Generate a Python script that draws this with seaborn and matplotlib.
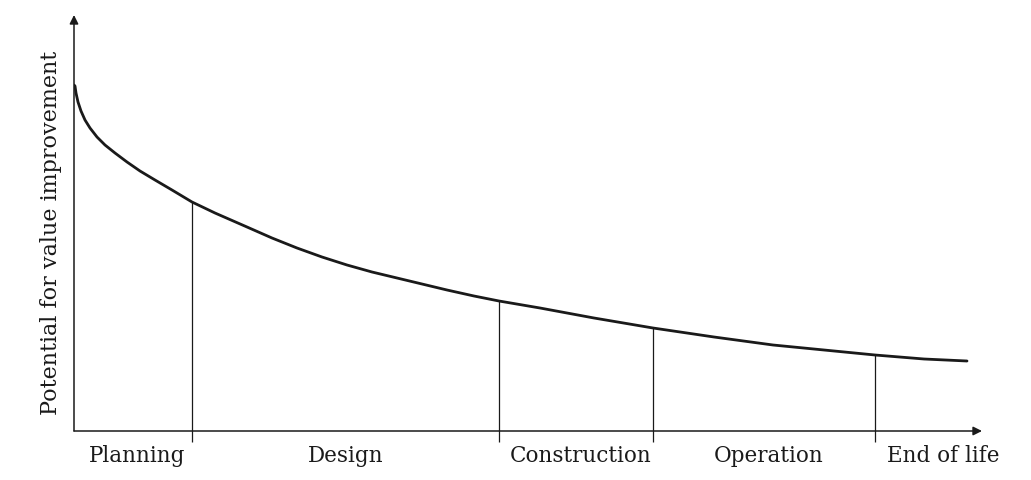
import matplotlib
matplotlib.use("Agg")
import matplotlib.pyplot as plt
import pandas as pd
import seaborn as sns

# Curve (time along the life cycle, potential)
time = [0, 1, 2, 4, 7, 11, 16, 23, 31, 41, 53, 66, 81, 98, 118, 141, 173, 198, 223,
        248, 273, 298, 323, 348, 373, 400, 425, 466, 520, 579, 640, 699, 750, 801,
        850, 893]
potential = [346, 345, 338, 329, 320, 311, 303, 294, 286, 278, 269, 260, 251, 241,
             229, 218, 204, 193, 183, 174, 166, 159, 153, 147, 141, 135, 130, 123,
             113, 103, 94, 86, 81, 76, 72, 70]

# Phase boundaries and labels
boundaries = [118, 425, 579, 801]
boundary_heights = [229, 130, 103, 76]
phases = ["Planning", "Design", "Construction", "Operation", "End of life"]
phase_centers = [63, 272, 507, 695, 869]

df = pd.DataFrame({"time": time, "potential": potential})

sns.set_style("white")
plt.rcParams["font.family"] = ["DejaVu Serif"]

fig = plt.figure(figsize=(10.31, 4.8), dpi=100)
ax = fig.add_axes([74 / 1031, 49 / 480, 908 / 1031, 416 / 480])
ax.set_xlim(0, 908)
ax.set_ylim(0, 416)

ink = "#1a1a1a"

# Curve
sns.lineplot(data=df, x="time", y="potential", ax=ax, color=ink, lw=2.0)

# Phase boundaries, reaching a bit below the time axis
ax.vlines(boundaries, -11, boundary_heights, color=ink, lw=0.9, clip_on=False)

# Axes drawn as arrows
for s in ax.spines.values():
    s.set_visible(False)
ax.annotate("", xy=(908, 0), xytext=(0, 0),
            arrowprops=dict(arrowstyle="-|>", color=ink, lw=1.1, mutation_scale=13,
                            shrinkA=0, shrinkB=0), annotation_clip=False)
ax.annotate("", xy=(0, 416), xytext=(0, 0),
            arrowprops=dict(arrowstyle="-|>", color=ink, lw=1.1, mutation_scale=13,
                            shrinkA=0, shrinkB=0), annotation_clip=False)

ax.set_xticks([])
ax.set_yticks([])
ax.set_xlabel("")
ax.set_ylabel("Potential for value improvement", fontsize=16, color=ink)
ax.yaxis.set_label_coords(-0.013, 0.476)

for label, cx in zip(phases, phase_centers):
    ax.text(cx, -25, label, ha="center", va="center", fontsize=15.5, color=ink,
            clip_on=False)

fig.savefig("out.png", dpi=100)
